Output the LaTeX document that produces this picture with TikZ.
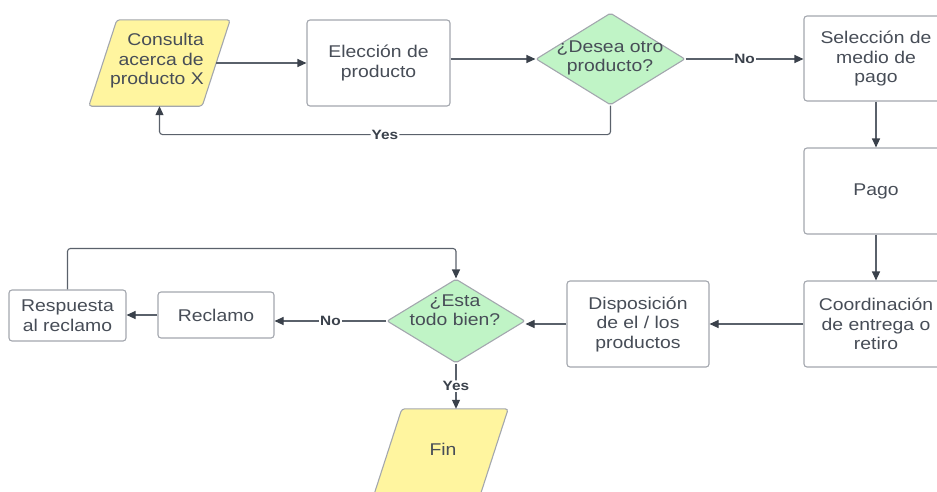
\documentclass[tikz,border=0pt]{standalone}
\usepackage{fontspec}
\setmainfont{Liberation Sans}[FakeStretch=1.14]
\usetikzlibrary{shapes.geometric,arrows.meta}
\definecolor{bordc}{HTML}{A3A7AE}
\definecolor{linec}{HTML}{5A616B}
\definecolor{headc}{HTML}{3A414B}
\definecolor{txtc}{HTML}{474D57}
\definecolor{yel}{HTML}{FFF59F}
\definecolor{grn}{HTML}{C0F4C6}
\begin{document}
\begin{tikzpicture}[x=1pt,y=-1pt,
  every node/.style={text=txtc, font=\fontsize{17}{19.5}\selectfont},
  procbox/.style={draw=bordc, line width=1.1pt, rounded corners=3pt, fill=white, align=center, inner sep=0pt},
  decis/.style={diamond, draw=bordc, line width=1.1pt, rounded corners=2pt, fill=grn, inner sep=0pt},
  ioframe/.style={draw=bordc, line width=1.1pt, rounded corners=3pt, fill=yel},
  anchorbox/.style={rectangle, inner sep=0pt},
  txt/.style={align=center, inner sep=0pt},
  arr/.style={draw=linec, line width=1.1pt, -{Triangle[length=9pt,width=8pt,color=headc]}, rounded corners=3pt},
  lbl/.style={fill=white, inner sep=1pt, font=\bfseries\fontsize{13.5}{14}\selectfont, text=headc}
]
\useasboundingbox (0,0) rectangle (937,491);

% Consulta (parallelogram)
\node[anchorbox, minimum width=113pt, minimum height=86pt] (consulta) at (159.5,63) {};
\draw[ioframe] ([xshift=14pt]consulta.north west) -- ([xshift=14pt]consulta.north east)
  -- ([xshift=-14pt]consulta.south east) -- ([xshift=-14pt]consulta.south west) -- cycle;
\node[align=right, inner sep=0pt, anchor=east] (consulta-t) at (204,61) {Consulta\\acerca de\\producto X};

% Eleccion
\node[procbox, minimum width=143pt, minimum height=86pt] (eleccion) at (378.5,63) {Elección de\\producto};

% Desea otro producto
\node[decis, minimum width=149pt, minimum height=92pt] (desea) at (610.5,59) {};
\node[txt] (desea-t) at (610,58) {¿Desea otro\\producto?};

% Right column
\node[procbox, minimum width=144pt, minimum height=85pt] (seleccion) at (876,58.5) {Selección de\\medio de\\pago};
\node[procbox, minimum width=144pt, minimum height=86pt] (pago) at (876,191) {Pago};
\node[procbox, minimum width=144pt, minimum height=86pt] (coord) at (876,324) {Coordinación\\de entrega o\\retiro};

% Disposicion
\node[procbox, minimum width=142pt, minimum height=86pt] (disp) at (638,324) {Disposición\\de el / los\\productos};

% Esta todo bien
\node[decis, minimum width=138pt, minimum height=84pt] (esta) at (456,321) {};
\node[txt] (esta-t) at (455,310) {¿Esta\\todo bien?};

% Reclamo, Respuesta
\node[procbox, minimum width=116pt, minimum height=46pt] (reclamo) at (216,315) {Reclamo};
\node[procbox, minimum width=117pt, minimum height=51pt] (respuesta) at (67.5,315.5) {Respuesta\\al reclamo};

% Fin (parallelogram)
\node[anchorbox, minimum width=106pt, minimum height=86pt] (fin) at (441,452) {};
\draw[ioframe] ([xshift=14pt]fin.north west) -- ([xshift=14pt]fin.north east)
  -- ([xshift=-14pt]fin.south east) -- ([xshift=-14pt]fin.south west) -- cycle;
\node[txt] (fin-t) at (443,449) {Fin};

% Connectors
\draw[arr] (consulta.east) -- (eleccion.west);
\draw[arr] (eleccion.east |- desea.west) -- (desea.west);
\draw[arr] (desea.east) -- (desea.east -| seleccion.west) node[lbl, midway] {No};
\draw[arr] (desea.south) -- ++(0,29) -| (consulta.south) node[lbl, pos=0.25] {Yes};
\draw[arr] (seleccion.south) -- (pago.north);
\draw[arr] (pago.south) -- (coord.north);
\draw[arr] (coord.west) -- (disp.east);
\draw[arr] (disp.west) -- (disp.west -| esta.east);
\draw[arr] (esta.west) -- (esta.west -| reclamo.east) node[lbl, midway] {No};
\draw[arr] (reclamo.west) -- (reclamo.west -| respuesta.east);
\draw[arr] (respuesta.north) -- ++(0,-41) -| (esta.north);
\draw[arr] (esta.south) -- (esta.south |- fin.north) node[lbl, midway] {Yes};
\end{tikzpicture}
\end{document}
